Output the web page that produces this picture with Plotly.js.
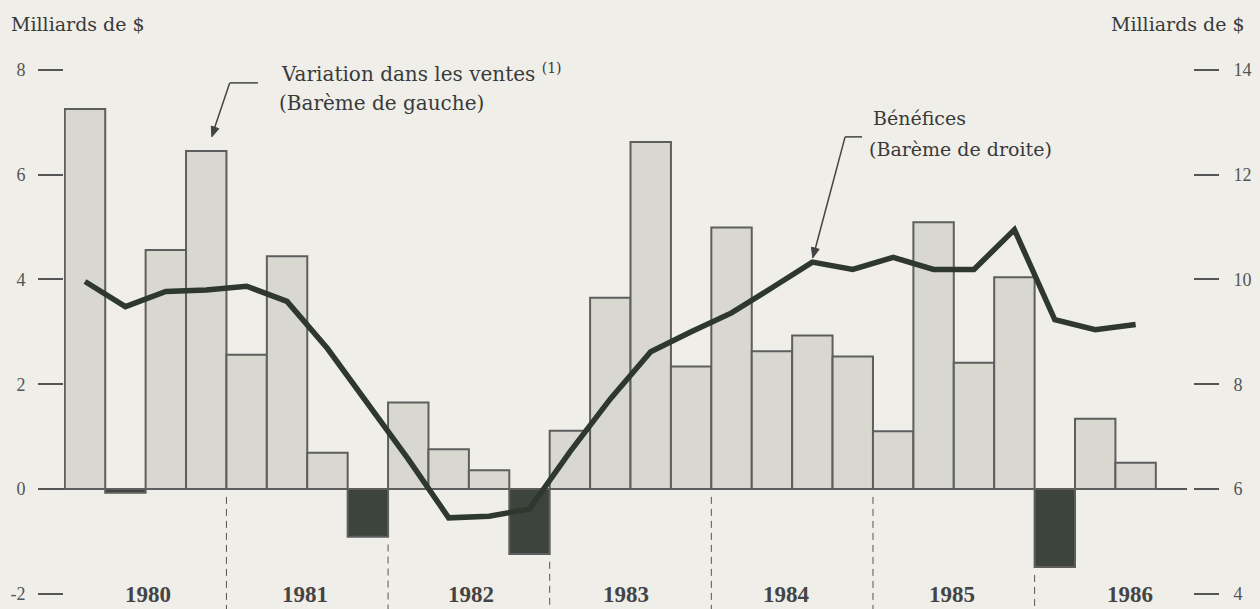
<!DOCTYPE html>
<html>
<head>
<meta charset="utf-8">
<script src="https://cdn.plot.ly/plotly-3.0.1.min.js"></script>
<style>
  html, body { margin: 0; padding: 0; background: #efeee8; }
  #chart { width: 1260px; height: 609px; }
</style>
</head>
<body>
<div id="chart"></div>
<script>
// ---- Data ----
const quarters = [
  'T1 1980','T2 1980','T3 1980','T4 1980',
  'T1 1981','T2 1981','T3 1981','T4 1981',
  'T1 1982','T2 1982','T3 1982','T4 1982',
  'T1 1983','T2 1983','T3 1983','T4 1983',
  'T1 1984','T2 1984','T3 1984','T4 1984',
  'T1 1985','T2 1985','T3 1985','T4 1985',
  'T1 1986','T2 1986','T3 1986'
];
// Variation dans les ventes (milliards de $, barème de gauche)
const ventes = [
  7.25, -0.07, 4.56, 6.45,
  2.56, 4.44, 0.69, -0.91,
  1.65, 0.76, 0.36, -1.24,
  1.11, 3.65, 6.62, 2.34,
  4.99, 2.63, 2.93, 2.53,
  1.10, 5.09, 2.41, 4.04,
  -1.49, 1.34, 0.50
];
// Bénéfices (milliards de $, barème de droite)
const benefices = [
  9.96, 9.48, 9.77, 9.80,
  9.87, 9.58, 8.68, 7.61,
  6.57, 5.45, 5.48, 5.62,
  6.71, 7.72, 8.62, 9.00,
  9.36, 9.84, 10.33, 10.19,
  10.42, 10.19, 10.19, 10.95,
  9.23, 9.04, 9.14
];
const years = ['1980','1981','1982','1983','1984','1985','1986'];
const yearLabelPos = [1.55, 5.45, 9.55, 13.4, 17.35, 21.45, 25.85];
const yearDividers = [3.5, 7.5, 11.5, 15.5, 19.5, 23.5];
const leftTicks = [-2, 0, 2, 4, 6, 8];
const leftTickText = ['-2', '0', '2', '4', '6', '8'];
const rightTicks = [4, 6, 8, 10, 12, 14];
const rightTickText = ['4', '6', '8', '10', '12', '14'];

// ---- Styling ----
const ink = '#3a3a3a';
const arrowInk = '#444';
const barColors = ventes.map(v => v < 0 ? '#3d443e' : '#d9d8d0');

const traces = [
  {
    type: 'bar',
    x: quarters,
    y: ventes,
    marker: { color: barColors, line: { color: '#5e5e5e', width: 2 } },
    hoverinfo: 'x+y',
    yaxis: 'y'
  },
  {
    type: 'scatter',
    mode: 'lines',
    x: quarters,
    y: benefices,
    line: { color: '#2e382f', width: 5.5 },
    yaxis: 'y2'
  }
];

const serif = 'DejaVu Serif, serif';
const tickFont = { family: 'Liberation Serif, serif', size: 18, color: '#555' };

const shapes = [
  // zero line extending beyond the bars
  { type: 'line', xref: 'paper', yref: 'y', x0: -0.022, x1: 0.9947, y0: 0, y1: 0,
    line: { color: '#555', width: 2 }, layer: 'below' },
  // sales pointer: horizontal lead + diagonal + head
  { type: 'line', xref: 'x', yref: 'y', x0: 3.58, x1: 4.28, y0: 7.75, y1: 7.75,
    line: { color: arrowInk, width: 1.5 } },
  { type: 'line', xref: 'x', yref: 'y', x0: 3.58, x1: 3.18, y0: 7.75, y1: 6.83,
    line: { color: arrowInk, width: 1.5 } },
  { type: 'path', xref: 'x', yref: 'y', xsizemode: 'pixel', ysizemode: 'pixel',
    xanchor: 3.14, yanchor: 6.72,
    path: 'M0,0 L6.96,8.23 L-0.64,10.75 Z',
    fillcolor: arrowInk, line: { color: arrowInk, width: 1 } },
  // profits pointer: horizontal lead + diagonal + head
  { type: 'line', xref: 'x', yref: 'y', x0: 18.81, x1: 19.23, y0: 6.72, y1: 6.72,
    line: { color: arrowInk, width: 1.5 } },
  { type: 'line', xref: 'x', yref: 'y', x0: 18.81, x1: 18.07, y0: 6.72, y1: 4.58,
    line: { color: arrowInk, width: 1.5 } },
  { type: 'path', xref: 'x', yref: 'y', xsizemode: 'pixel', ysizemode: 'pixel',
    xanchor: 18.01, yanchor: 4.41,
    path: 'M0,0 L6.42,8.64 L-1.30,10.68 Z',
    fillcolor: arrowInk, line: { color: arrowInk, width: 1 } }
];
yearDividers.forEach(d => {
  const left = ventes[Math.floor(d)];
  const right = ventes[Math.ceil(d)];
  const low = Math.min(0, left, right);
  shapes.push({
    type: 'line', xref: 'x', yref: 'y',
    x0: d, x1: d, y0: low - 0.15, y1: -2.4,
    line: { color: '#555', width: 1, dash: '7px,5px' }
  });
});

const annotations = [
  { xref: 'paper', yref: 'paper', x: -0.0487, y: 1.0655, xanchor: 'left', yanchor: 'middle',
    text: 'Milliards de $', showarrow: false, font: { family: serif, size: 19, color: ink } },
  { xref: 'paper', yref: 'paper', x: 1.0478, y: 1.0655, xanchor: 'right', yanchor: 'middle',
    text: 'Milliards de $', showarrow: false, font: { family: serif, size: 19, color: ink } },
  { xref: 'x', yref: 'y', x: 4.8, y: 7.93, xanchor: 'left', yanchor: 'middle',
    text: 'Variation dans les ventes <sup>(1)</sup>', showarrow: false,
    font: { family: serif, size: 20, color: ink } },
  { xref: 'x', yref: 'y', x: 4.75, y: 7.36, xanchor: 'left', yanchor: 'middle',
    text: '(Barème de gauche)', showarrow: false,
    font: { family: serif, size: 20, color: ink } },
  { xref: 'x', yref: 'y', x: 19.45, y: 7.08, xanchor: 'left', yanchor: 'middle',
    text: 'Bénéfices', showarrow: false,
    font: { family: serif, size: 19, color: ink } },
  { xref: 'x', yref: 'y', x: 19.35, y: 6.49, xanchor: 'left', yanchor: 'middle',
    text: '(Barème de droite)', showarrow: false,
    font: { family: serif, size: 19, color: ink } }
];
years.forEach((y, i) => {
  annotations.push({
    xref: 'x', yref: 'y', x: yearLabelPos[i], y: -2.02, xanchor: 'center', yanchor: 'middle',
    text: y, showarrow: false,
    font: { family: 'Liberation Serif, serif', size: 23, color: '#444', weight: 'bold' }
  });
});

const layout = {
  width: 1260, height: 609,
  margin: { l: 64, r: 67, t: 60, b: 0, pad: 0 },
  paper_bgcolor: '#efeee8',
  plot_bgcolor: 'rgba(0,0,0,0)',
  showlegend: false,
  bargap: 0,
  xaxis: {
    type: 'category',
    range: [-0.52, 27.42],
    showgrid: false, zeroline: false, showline: false,
    showticklabels: false, ticks: '',
    fixedrange: true
  },
  yaxis: {
    range: [-2.29, 8.187],
    tickvals: leftTicks, ticktext: leftTickText,
    ticks: 'outside', ticklen: 25, tickwidth: 2, tickcolor: '#555',
    ticklabelstandoff: 9,
    showgrid: false, zeroline: false, showline: false,
    tickfont: tickFont,
    fixedrange: true
  },
  yaxis2: {
    range: [3.71, 14.187],
    overlaying: 'y', side: 'right',
    tickvals: rightTicks, ticktext: rightTickText,
    ticks: 'outside', ticklen: 25, tickwidth: 2, tickcolor: '#555',
    ticklabelstandoff: 11,
    showgrid: false, zeroline: false, showline: false,
    tickfont: tickFont,
    fixedrange: true
  },
  shapes: shapes,
  annotations: annotations
};

Plotly.newPlot('chart', traces, layout, { displayModeBar: false, staticPlot: true });
</script>
</body>
</html>
